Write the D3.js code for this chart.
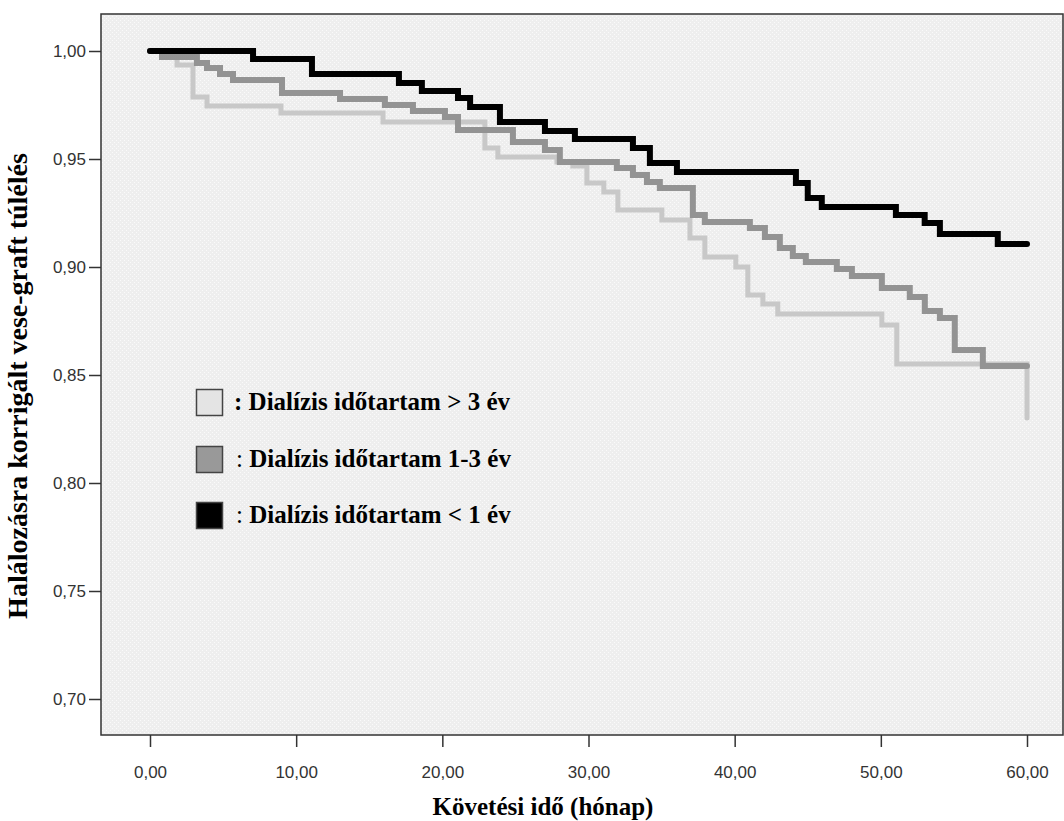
<!DOCTYPE html>
<html>
<head>
<meta charset="utf-8">
<script src="https://cdn.jsdelivr.net/npm/d3@7"></script>
<style>
  body { margin: 0; background: #fff; }
  svg { display: block; }
</style>
</head>
<body>
<div id="chart"></div>
<script>
// Kaplan-Meier steps (months, survival)
const blackTimes = [0, 7.05, 11.08, 17.03, 18.6, 21.07, 21.9, 23.94, 27.02, 29.07, 33.04, 34.2, 36.05, 44.19, 45.0, 45.96, 51.03, 53.0, 54.04, 58.0, 60];
const blackValues = [1.000, 0.9963, 0.9894, 0.9852, 0.9815, 0.9782, 0.9741, 0.9671, 0.9630, 0.9593, 0.9551, 0.9481, 0.9440, 0.9389, 0.9319, 0.9278, 0.9241, 0.9204, 0.9153, 0.9106, 0.9106];

const grayTimes = [0, 0.82, 3.21, 3.9, 4.79, 5.68, 9.03, 13.0, 16.07, 17.99, 20.18, 21.07, 24.83, 27.02, 28.04, 31.94, 33.04, 34.0, 34.88, 37.14, 37.96, 41.04, 42.07, 43.09, 43.98, 44.87, 46.99, 48.02, 50.07, 51.98, 53.01, 54.04, 55.06, 56.98, 60];
const grayValues = [1.000, 0.9972, 0.9944, 0.9921, 0.9894, 0.9866, 0.9806, 0.9778, 0.9750, 0.9722, 0.9694, 0.9634, 0.9579, 0.9542, 0.9486, 0.9458, 0.9426, 0.9394, 0.9366, 0.9241, 0.9208, 0.9181, 0.9139, 0.9088, 0.9051, 0.9023, 0.8991, 0.8958, 0.8903, 0.8861, 0.8796, 0.8764, 0.8616, 0.8542, 0.8542];

const lightTimes = [0, 0.9, 1.85, 2.94, 3.9, 8.96, 15.94, 22.91, 23.8, 27.84, 28.93, 29.89, 31.05, 32.01, 35.02, 36.94, 37.96, 40.08, 40.9, 41.93, 42.95, 50.07, 51.09, 60];
const lightValues = [1.000, 0.9975, 0.9935, 0.9787, 0.9745, 0.9713, 0.9671, 0.9551, 0.9509, 0.9486, 0.9468, 0.9389, 0.9347, 0.9264, 0.9218, 0.9134, 0.9046, 0.9000, 0.8870, 0.8829, 0.8782, 0.8731, 0.8551, 0.8301];

const xTicks = [0, 10, 20, 30, 40, 50, 60];
const yTicks = [0.70, 0.75, 0.80, 0.85, 0.90, 0.95, 1.00];

const legendLabels = ["Dialízis időtartam > 3 év", "Dialízis időtartam 1-3 év", "Dialízis időtartam < 1 év"];
const xTitle = "Követési idő (hónap)";
const yTitle = "Halálozásra korrigált vese-graft túlélés";

const width = 1064, height = 821;
const frame = { left: 101, top: 14, right: 1063, bottom: 735 };

const svg = d3.select("#chart").append("svg")
  .attr("width", width)
  .attr("height", height);

// dotted grey background like the SPSS plot area
const defs = svg.append("defs");
const pat = defs.append("pattern")
  .attr("id", "dots")
  .attr("width", 4).attr("height", 4)
  .attr("patternUnits", "userSpaceOnUse");
pat.append("rect").attr("width", 4).attr("height", 4).attr("fill", "#eeeeee");
pat.append("rect").attr("x", 0).attr("y", 0).attr("width", 1).attr("height", 1).attr("fill", "#fafafa");
pat.append("rect").attr("x", 2).attr("y", 2).attr("width", 1).attr("height", 1).attr("fill", "#fafafa");

svg.append("rect")
  .attr("x", frame.left).attr("y", frame.top)
  .attr("width", frame.right - frame.left)
  .attr("height", frame.bottom - frame.top)
  .attr("fill", "url(#dots)");

const x = d3.scaleLinear().domain([0, 60]).range([150, 1027]);
const y = d3.scaleLinear().domain([0.70, 1.00]).range([699, 51]);

const fmt = d => d3.format(".2f")(d).replace(".", ",");

const xAxis = d3.axisBottom(x).tickValues(xTicks).tickFormat(fmt).tickSize(12).tickPadding(19);
const yAxis = d3.axisLeft(y).tickValues(yTicks).tickFormat(fmt).tickSize(12).tickPadding(3);

const gx = svg.append("g")
  .attr("transform", "translate(0," + frame.bottom + ")")
  .call(xAxis);
const gy = svg.append("g")
  .attr("transform", "translate(" + frame.left + ",0)")
  .call(yAxis);

[gx, gy].forEach(g => {
  g.select(".domain").remove();
  g.selectAll(".tick line").attr("stroke", "#333").attr("stroke-width", 1.5);
  g.selectAll(".tick text")
    .attr("fill", "#333")
    .style("font-family", "Arial, 'Liberation Sans', sans-serif")
    .style("font-size", "17px");
});

// survival curves
const line = d3.line()
  .x(d => x(d[0]))
  .y(d => y(d[1]))
  .curve(d3.curveStepAfter);

const series = [
  { times: lightTimes, values: lightValues, color: "#c8c8c8", w: 5 },
  { times: grayTimes, values: grayValues, color: "#939393", w: 6 },
  { times: blackTimes, values: blackValues, color: "#000000", w: 6 }
];

svg.selectAll("path.km")
  .data(series)
  .enter().append("path")
  .attr("class", "km")
  .attr("d", s => line(s.times.map((t, i) => [t, s.values[i]])))
  .attr("fill", "none")
  .attr("stroke", s => s.color)
  .attr("stroke-width", s => s.w)
  .attr("stroke-linecap", "round")
  .attr("stroke-linejoin", "miter");

// frame
svg.append("rect")
  .attr("x", frame.left).attr("y", frame.top)
  .attr("width", frame.right - frame.left)
  .attr("height", frame.bottom - frame.top)
  .attr("fill", "none")
  .attr("stroke", "#333")
  .attr("stroke-width", 1.5);

// legend
const legendFills = ["#e4e4e4", "#999999", "#000000"];
const legendY = [389, 446, 502];
const lg = svg.append("g");
legendLabels.forEach((lab, i) => {
  lg.append("rect")
    .attr("x", 196.5).attr("y", legendY[i] + 0.5)
    .attr("width", 26).attr("height", 26)
    .attr("fill", legendFills[i])
    .attr("stroke", "#444")
    .attr("stroke-width", 1.5);
  const t = lg.append("text")
    .attr("x", i === 0 ? 234 : 236)
    .attr("y", legendY[i] + 21)
    .style("font-family", "'Times New Roman', 'Liberation Serif', serif")
    .style("font-size", "25px")
    .attr("fill", "#000");
  t.append("tspan").attr("font-weight", i === 0 ? "bold" : "normal").text(":");
  t.append("tspan").attr("font-weight", "bold").text(" " + lab);
});

// axis titles
svg.append("text")
  .attr("x", 543).attr("y", 815)
  .attr("text-anchor", "middle")
  .style("font-family", "'Times New Roman', 'Liberation Serif', serif")
  .style("font-size", "25px")
  .style("font-weight", "bold")
  .text(xTitle);

svg.append("text")
  .attr("transform", "translate(27,386) rotate(-90)")
  .attr("text-anchor", "middle")
  .style("font-family", "'Times New Roman', 'Liberation Serif', serif")
  .style("font-size", "28px")
  .style("font-weight", "bold")
  .text(yTitle);
</script>
</body>
</html>
